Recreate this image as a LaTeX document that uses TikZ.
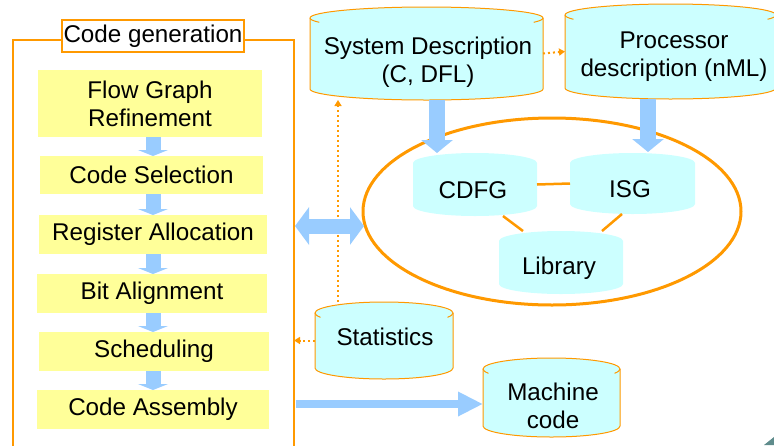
\documentclass[tikz,border=0pt]{standalone}
\usepackage{fontspec}
\setmainfont{Liberation Sans}
\usetikzlibrary{arrows.meta,calc,shapes.geometric}

\definecolor{frameorange}{HTML}{FF9900}
\definecolor{stepyellow}{HTML}{FFFF99}
\definecolor{storecyan}{HTML}{CCFFFF}
\definecolor{flowblue}{HTML}{99CCFF}
\definecolor{cornerteal}{HTML}{5F8C8C}

% can body: #1 path style, #2 left, #3 top, #4 right, #5 bottom, #6 lid radius
\newcommand\drawcan[6]{%
  \pgfmathsetmacro\canrx{(#4-#2)/2}%
  \path[#1] (#2,#3+#6) arc[start angle=180,end angle=0,x radius=\canrx pt,y radius=#6pt]
     -- (#4,#5-#6) arc[start angle=0,end angle=-180,x radius=\canrx pt,y radius=#6pt] -- cycle;}
% front rim of the lid, visible only near the sides
\newcommand\canrim[6]{%
  \pgfmathsetmacro\canrx{(#4-#2)/2}%
  \path[#1] (#2,#3+#6) arc[start angle=180,end angle=203,x radius=\canrx pt,y radius=#6pt];
  \path[#1] (#4,#3+#6) arc[start angle=0,end angle=-23,x radius=\canrx pt,y radius=#6pt];}

\begin{document}
\begin{tikzpicture}[x=1pt,y=-1pt,
  every node/.style={font=\fontsize{24.2}{28}\selectfont, inner sep=0pt, outer sep=0pt},
  stepbox/.style={fill=stepyellow, minimum width=230pt, minimum height=39pt, align=center},
  cantext/.style={align=center},
  outlinedcan/.style={fill=storecyan, draw=frameorange, line width=1pt},
  plaincan/.style={fill=storecyan},
  rimline/.style={draw=frameorange, line width=1pt},
  orangelink/.style={draw=frameorange, line width=2.5pt},
  dotlink/.style={draw=frameorange, line width=2pt, dash pattern=on 2pt off 3pt,
    -{Triangle[width=7pt,length=6pt]}},
  steparrow/.style={draw=flowblue, line width=15pt, -{Triangle[width=30pt,length=6pt]}},
  fatdown/.style={draw=flowblue, line width=16pt, -{Triangle[width=31pt,length=13pt]}},
  twoway/.style={draw=flowblue, line width=15pt,
    {Triangle[width=37pt,length=14pt]}-{Triangle[width=37pt,length=14pt]}},
  outarrow/.style={draw=flowblue, line width=8pt, -{Triangle[width=23pt,length=25pt]}}
]
\useasboundingbox (0,0) rectangle (774,445);

% code generation frame and its title tab
\node[draw=frameorange, line width=2.5pt, minimum width=281pt, minimum height=430pt] (cg) at (153.5,255) {};
\node[draw=frameorange, line width=2.5pt, fill=white, minimum width=182pt, minimum height=32pt] (cgTitle) at (153,36) {Code generation};

% code generation steps
\node[stepbox, minimum width=224pt, minimum height=67pt] (fgr) at (150,103.5) {Flow Graph\\Refinement};
\node[stepbox, minimum width=223pt, minimum height=38pt] (csel) at (151.5,175) {Code Selection};
\node[stepbox, minimum width=228pt] (ralloc) at (153,234.5) {Register Allocation};
\node[stepbox] (balign) at (152,293.5) {Bit Alignment};
\node[stepbox] (sched) at (154,351.5) {Scheduling};
\node[stepbox, minimum width=232pt] (casm) at (153,409.5) {Code Assembly};

\coordinate (spine) at (153,0);
\foreach \a/\b in {fgr/csel, csel/ralloc, ralloc/balign, balign/sched, sched/casm}
  \draw[steparrow] (\a.south -| spine) -- (\b.north -| spine);

% data stores
\drawcan{outlinedcan}{310}{7}{543}{100}{11}
\canrim{rimline}{310}{7}{543}{100}{11}
\drawcan{outlinedcan}{565}{4}{776}{99}{11}
\canrim{rimline}{565}{4}{776}{99}{11}
\drawcan{outlinedcan}{315}{302}{453}{379}{11}
\canrim{rimline}{315}{302}{453}{379}{11}
\drawcan{outlinedcan}{483}{358}{620}{437}{11}
\canrim{rimline}{483}{358}{620}{437}{11}
\drawcan{plaincan}{413}{153}{537}{216}{10}
\drawcan{plaincan}{570}{153}{695}{214}{10}
\drawcan{plaincan}{499}{231}{623}{294}{10}

\node[minimum width=233pt, minimum height=93pt] (sys) at (426.5,53.5) {};
\node[minimum width=211pt, minimum height=95pt] (proc) at (670.5,51.5) {};
\node[minimum width=138pt, minimum height=77pt] (stats) at (384,340.5) {};
\node[minimum width=137pt, minimum height=79pt] (mc) at (551.5,397.5) {};
\node[minimum width=124pt, minimum height=63pt] (cdfg) at (475,184.5) {};
\node[minimum width=125pt, minimum height=61pt] (isg) at (632.5,183.5) {};
\node[minimum width=124pt, minimum height=63pt] (lib) at (561,262.5) {};

\node[cantext] (sysText) at (428,62) {System Description\\(C, DFL)};
\node[cantext] (procText) at (674,57) {Processor\\description (nML)};
\node[cantext] (statsText) at (385,337) {Statistics};
\node[cantext] (mcText) at (553,406) {Machine\\code};
\node[cantext] (cdfgText) at (473,190) {CDFG};
\node[cantext] (isgText) at (630,189) {ISG};
\node[cantext] (libText) at (559,268) {Library};

% processor model
\node[draw=frameorange, line width=3pt, ellipse, minimum width=378pt, minimum height=187pt] (model) at (552,211.5) {};

\draw[orangelink] (cdfg.east) -- (isg.west);
\draw[orangelink] ($(cdfg.south)+(28,0)$) -- ($(lib.north)+(-38,0)$);
\draw[orangelink] ($(isg.south)+(-10.5,0)$) -- ($(lib.north)+(41,0)$);

% descriptions feeding the model
\draw[fatdown] ($(sys.south)+(10.5,0)$) -- ($(cdfg.north)+(-38,0)$);
\draw[fatdown] ($(proc.south)+(-22.5,0)$) -- ($(isg.north)+(15.5,-1)$);

% feedback paths
\draw[dotlink] (sys.east) -- (proc.west);
\coordinate (upfoot) at ($(stats.north)+(-46,0)$);
\draw[dotlink] (upfoot) -- (upfoot |- sys.south);
\draw[dotlink] (stats.west) -- (cg.east |- stats.west);

% exchange with the model and output
\coordinate (modelIn) at ($(model.west)+(1,14.5)$);
\draw[twoway] ($(cg.east |- modelIn)+(1,0)$) -- (modelIn);
\coordinate (mcIn) at ($(mc.west)+(0,6.5)$);
\draw[outarrow] ($(cg.east |- mcIn)+(1.5,0)$) -- (mcIn);

% page corner
\fill[cornerteal] (764,445) -- (774,437) -- (774,445) -- cycle;
\end{tikzpicture}
\end{document}
